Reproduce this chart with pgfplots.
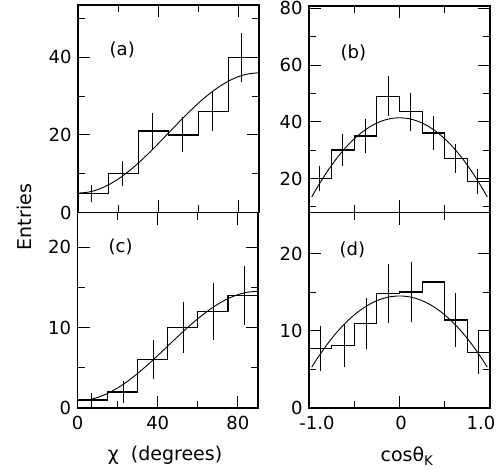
\documentclass[border=0pt]{standalone}
\usepackage{fontspec}
\setmainfont{DejaVu Sans}
\usepackage{pgfplots}
\pgfplotsset{compat=1.18}
\pgfplotsset{
  panel/.style={
    scale only axis,
    anchor=south west,
    axis line style={line width=1.1pt},
    tick align=inside,
    xtick pos=both, ytick pos=both,
    xticklabel pos=lower, yticklabel pos=left,
    major tick length=12pt, minor tick length=7pt,
    every tick/.style={black, line width=0.9pt},
    every minor tick/.style={black, line width=0.9pt},
    tick label style={font=\fontsize{18}{20}\selectfont},
    /pgf/number format/assume math mode=true,
    yticklabel shift=3pt,
    xticklabel shift=5pt,
    clip=false,
  },
  hist/.style={const plot, black, line width=1.2pt, mark=none},
  curve/.style={smooth, black, line width=0.9pt, mark=none},
  errs/.style={draw=none, mark=none,
    error bars/.cd, y dir=both, y explicit, error mark=none,
    error bar style={draw=black, solid, line width=0.9pt}},
}
\begin{document}
\begin{tikzpicture}[x=1pt,y=1pt]
\useasboundingbox (0,0) rectangle (503,469);

% (a)
\begin{axis}[panel, at={(78pt,256.5pt)}, width=181pt, height=207.5pt,
  xmin=0, xmax=90, ymin=0, ymax=53.5,
  xtick={0,40,80}, minor xtick={20,60}, xticklabels={},
  ytick={0,20,40}, minor ytick={10,30,50}]
\addplot[hist] coordinates {(0,5) (15,10) (30,21) (45,20) (60,26) (75,40) (90,40)};
\addplot[errs] coordinates {(6.5,5) +- (0,2.2) (22,10) +- (0,3.2) (37,21) +- (0,4.6) (52,20) +- (0,4.5) (67,26) +- (0,5.1) (81.5,40) +- (0,6.3)};
\addplot[curve] coordinates {(0,5.0) (5,5.24) (10,5.93) (15,7.08) (20,8.63) (25,10.54) (30,12.75) (35,15.20) (40,17.81) (45,20.5) (50,23.19) (55,25.80) (60,28.25) (65,30.46) (70,32.37) (75,33.92) (80,35.07) (85,35.76) (89.5,36.0)};
\node[font=\fontsize{18}{20}\selectfont] at (axis cs:22,42) {(a)};
\end{axis}

% (b)
\begin{axis}[panel, at={(309pt,256.5pt)}, width=181pt, height=206.5pt,
  xmin=-1, xmax=1, ymin=8, ymax=80.8,
  xtick={-1,0,1}, minor xtick={-0.5,0.5}, xticklabels={},
  ytick={20,40,60,80}, minor ytick={10,30,50,70}]
\addplot[hist] coordinates {(-1,20) (-0.75,30) (-0.5,35) (-0.25,49) (0,43.5) (0.25,36) (0.5,27) (0.75,19) (1,19)};
\addplot[errs] coordinates {(-0.88,20) +- (0,4.5) (-0.635,30) +- (0,5.5) (-0.38,35) +- (0,5.9) (-0.125,49) +- (0,7) (0.12,43.5) +- (0,6.6) (0.37,36) +- (0,6) (0.62,27) +- (0,5.2) (0.86,19) +- (0,4.4)};
\addplot[curve] coordinates {(-0.97,13.46) (-0.9,17.34) (-0.8,22.39) (-0.7,26.85) (-0.6,30.71) (-0.5,33.97) (-0.4,36.65) (-0.3,38.73) (-0.2,40.21) (-0.1,41.10) (0,41.4) (0.1,41.10) (0.2,40.21) (0.3,38.73) (0.4,36.65) (0.5,33.97) (0.6,30.71) (0.7,26.85) (0.8,22.39) (0.9,17.34) (0.97,13.46)};
\node[font=\fontsize{18}{20}\selectfont] at (axis cs:-0.51,64.3) {(b)};
\end{axis}

% (c)
\begin{axis}[panel, at={(77.5pt,61pt)}, width=180.5pt, height=195.5pt,
  xmin=0, xmax=90, ymin=0, ymax=24.3,
  xtick={0,40,80}, minor xtick={20,60}, xticklabels={0,40,80},
  ytick={0,10,20}, minor ytick={5,15}]
\addplot[hist] coordinates {(0,1) (15,2) (30,6) (45,10) (60,12) (75,14) (90,14)};
\addplot[errs] coordinates {(7.2,1) +- (0,0.9) (22.7,2) +- (0,1.4) (37.7,6) +- (0,2.4) (52.7,10) +- (0,3.2) (67.7,12) +- (0,3.5) (83,14) +- (0,3.7)};
\addplot[curve] coordinates {(0,0.90) (5,1.00) (10,1.31) (15,1.81) (20,2.49) (25,3.33) (30,4.30) (35,5.37) (40,6.52) (45,7.70) (50,8.88) (55,10.03) (60,11.10) (65,12.07) (70,12.91) (75,13.59) (80,14.09) (85,14.40) (90,14.50)};
\node[font=\fontsize{18}{20}\selectfont] at (axis cs:21.5,20) {(c)};
\end{axis}

% (d)
\begin{axis}[panel, at={(309pt,61pt)}, width=181pt, height=195.5pt,
  xmin=-1, xmax=1, ymin=0, ymax=25.3,
  xtick={-1,0,1}, minor xtick={-0.5,0.5},
  xticklabels={\hspace*{16pt}-1.0, 0\hspace*{-3pt}, 1.0\hspace*{18pt}},
  ytick={0,10,20}, minor ytick={5,15}]
\addplot[hist] coordinates {(-1,7.7) (-0.75,8.1) (-0.5,10.9) (-0.25,14.8) (0,15.0) (0.25,16.3) (0.5,11.4) (0.75,7.2) (1,7.2)};
\addplot[errs] coordinates {(-0.87,7.7) +- (0,2.9) (-0.61,8.1) +- (0,2.75) (-0.36,10.9) +- (0,3.3) (-0.12,14.8) +- (0,3.85) (0.13,15.0) +- (0,3.9) (0.62,11.4) +- (0,3.5) (0.87,7.2) +- (0,2.8)};
\addplot[curve] coordinates {(-0.97,5.28) (-0.9,6.56) (-0.8,8.23) (-0.7,9.70) (-0.6,10.97) (-0.5,12.05) (-0.4,12.93) (-0.3,13.62) (-0.2,14.11) (-0.1,14.40) (0,14.5) (0.1,14.40) (0.2,14.11) (0.3,13.62) (0.4,12.93) (0.5,12.05) (0.6,10.97) (0.7,9.70) (0.8,8.23) (0.9,6.56) (0.97,5.28)};
\node[font=\fontsize{18}{20}\selectfont] at (axis cs:-0.52,20.5) {(d)};
\end{axis}

\node[rotate=90, font=\fontsize{19}{21}\selectfont] at (24,252) {Entries};
\node[font=\fontsize{19}{21}\selectfont] at (165,14) {χ\ \ (degrees)};
\node[font=\fontsize{19}{21}\selectfont] at (407,13) {cosθ\textsubscript{K}};
\end{tikzpicture}
\end{document}
